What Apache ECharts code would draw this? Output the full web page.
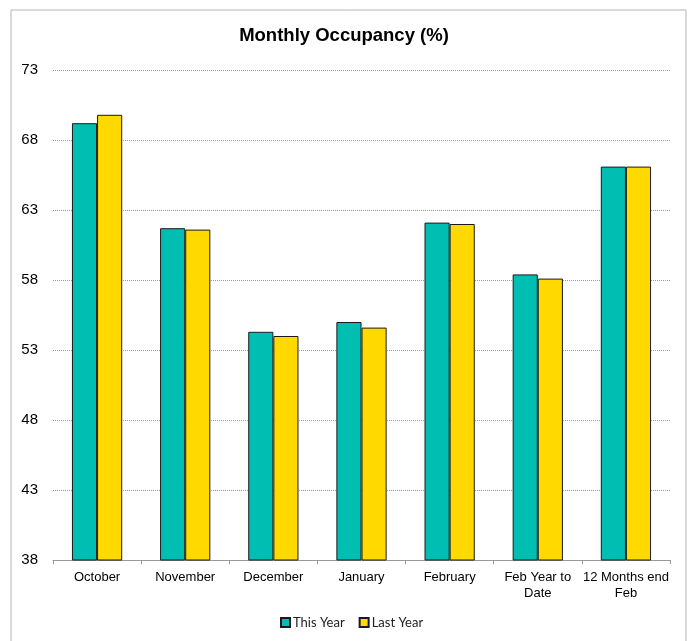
<!DOCTYPE html>
<html>
<head>
<meta charset="utf-8">
<script src="https://cdn.jsdelivr.net/npm/echarts@6/dist/echarts.min.js"></script>
<style>
  html, body { margin: 0; padding: 0; background: #fff; }
  #main { width: 688px; height: 641px; }
</style>
</head>
<body>
<div id="main"></div>
<script>
// data
var categories = ['October', 'November', 'December', 'January', 'February', 'Feb Year to\nDate', '12 Months end\nFeb'];
var thisYear = [69.2, 61.7, 54.3, 55.0, 62.1, 58.4, 66.1];
var lastYear = [69.8, 61.6, 54.0, 54.6, 62.0, 58.1, 66.1];
var yMin = 38, yMax = 73, yStep = 5;

var myChart = echarts.init(document.getElementById('main'));

var option = {
  backgroundColor: '#fff',
  animation: false,
  title: {
    text: 'Monthly Occupancy (%)',
    left: 'center',
    top: 21,
    textStyle: { fontFamily: 'Liberation Sans, Arial', fontSize: 18.5, fontWeight: 'bold', color: '#000' }
  },
  graphic: [{
    type: 'rect',
    shape: { x: 11, y: 10, width: 675, height: 640 },
    style: { fill: 'none', stroke: '#b4b4b4', lineWidth: 1 },
    silent: true
  }],
  legend: {
    bottom: 7,
    left: 275,
    icon: 'rect',
    itemWidth: 9,
    itemHeight: 9,
    itemGap: 14,
    textStyle: { fontFamily: 'Lato', fontSize: 13, color: '#222', padding: [0, 0, 0, -2] },
    data: ['This Year', 'Last Year']
  },
  grid: { left: 53, right: 18, top: 70, bottom: 81 },
  xAxis: {
    type: 'category',
    data: categories,
    boundaryGap: true,
    axisLine: { lineStyle: { color: '#999' } },
    axisTick: { show: true, length: 4, lineStyle: { color: '#999' } },
    axisLabel: {
      interval: 0,
      margin: 9,
      fontFamily: 'Liberation Sans, Arial',
      fontSize: 13,
      color: '#000',
      lineHeight: 16
    }
  },
  yAxis: {
    type: 'value',
    min: yMin,
    max: yMax,
    interval: yStep,
    axisLine: { show: false },
    axisTick: { show: false },
    axisLabel: { margin: 15, fontFamily: 'Liberation Sans, Arial', fontSize: 15, color: '#000' },
    splitLine: { lineStyle: { color: '#999', type: [1, 1], width: 1 } }
  },
  series: [{
    name: 'This Year',
    type: 'bar',
    data: thisYear,
    barGap: '0%',
    barCategoryGap: '43%',
    itemStyle: { color: '#00BFB2', borderColor: '#1a1a1a', borderWidth: 1 }
  }, {
    name: 'Last Year',
    type: 'bar',
    data: lastYear,
    itemStyle: { color: '#FFD900', borderColor: '#1a1a1a', borderWidth: 1 }
  }]
};

myChart.setOption(option);
</script>
</body>
</html>
